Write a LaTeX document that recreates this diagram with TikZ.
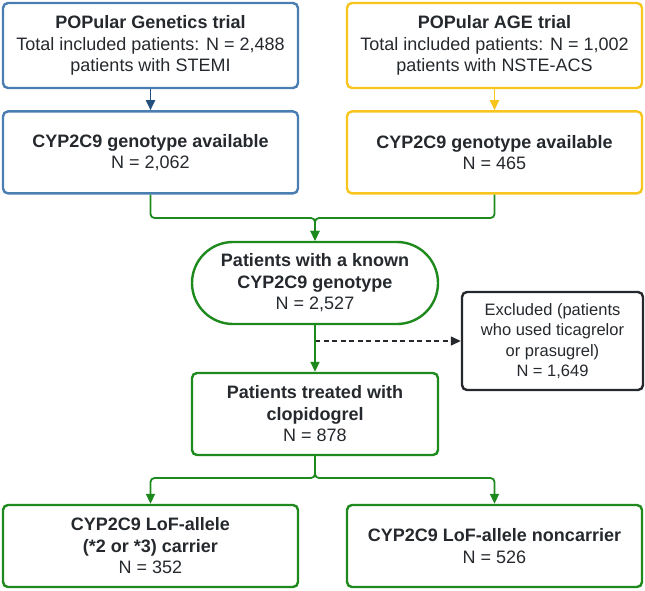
\documentclass[tikz,border=0pt]{standalone}
\usepackage{fontspec}
\setmainfont{Liberation Sans}
\usetikzlibrary{arrows.meta,positioning}
\definecolor{genblue}{HTML}{4A7EB3}
\definecolor{genarrow}{HTML}{23507E}
\definecolor{ageyellow}{HTML}{F7C51E}
\definecolor{flowgreen}{HTML}{1E8A1E}
\definecolor{inkgray}{HTML}{25292D}

\begin{document}
\begin{tikzpicture}[
		x=1pt, y=1pt,
		node distance=21pt,
		block/.style={draw, line width=2.4pt, rounded corners=5pt, minimum width=295pt, minimum height=82pt, inner sep=0pt, align=center, text=inkgray, font=\fontsize{18}{21.5}\selectfont},
		trialblock/.style={block, minimum height=85pt},
		flowblock/.style={block, draw=flowgreen, minimum width=246pt},
		stadium/.style={flowblock, rounded corners=41pt},
		sideblock/.style={block, draw=inkgray, minimum width=181pt, minimum height=98pt, font=\fontsize{16.5}{20.3}\selectfont},
		flow/.style={flowgreen, line width=1.8pt, rounded corners=4pt},
		tip/.style={-{Triangle[length=10pt,width=9pt]}},
	]
		\useasboundingbox (0,0) rectangle (645,-590);

		\node (gen trial) [trialblock, draw=genblue] at (150.5,-45.5) {\textbf{POPular Genetics trial}\\Total included patients: N = 2,488\\patients with STEMI};
		\node (age trial) [trialblock, draw=ageyellow] at (494.5,-45.5) {\textbf{POPular AGE trial}\\Total included patients: N = 1,002\\patients with NSTE-ACS};
		\node (gen geno) [block, draw=genblue, below=of gen trial] {\textbf{CYP2C9 genotype available}\\N = 2,062};
		\node (age geno) [block, draw=ageyellow, below=of age trial] {\textbf{CYP2C9 genotype available}\\N = 465};

		\node (known) [stadium] at (315,-283) {\textbf{Patients with a known}\\\textbf{CYP2C9 genotype}\\N = 2,527};
		\node (excluded) [sideblock] at (552.5,-341) {Excluded (patients\\who used ticagrelor\\or prasugrel)\\N = 1,649};
		\node (treated) [flowblock] at (315,-414) {\textbf{Patients treated with}\\\textbf{clopidogrel}\\N = 878};

		\node (carrier) [block, draw=flowgreen] at (150.5,-546) {\textbf{CYP2C9 LoF-allele}\\\textbf{(*2 or *3) carrier}\\N = 352};
		\node (noncarrier) [block, draw=flowgreen] at (494.5,-546) {\textbf{CYP2C9 LoF-allele noncarrier}\\N = 526};

		\coordinate (merge) at (315,-218);
		\coordinate (fork) at (315,-478);
		\coordinate (split) at (known.south |- excluded.west);

		\draw[genarrow, line width=1.8pt, tip] (gen trial) -- (gen geno);
		\draw[ageyellow, line width=1.8pt, tip] (age trial) -- (age geno);

		\draw[flow, tip] (gen geno) |- (merge) -- (known);
		\draw[flow, tip] (age geno) |- (merge) -- (known);

		\draw[inkgray, line width=1.4pt, dash pattern=on 5pt off 3.5pt, tip] (split) -- (excluded);
		\draw[flow, tip] (known) -- (treated);

		\draw[flow, tip] (treated) -- (fork) -| (carrier);
		\draw[flow, tip] (treated) -- (fork) -| (noncarrier);
	\end{tikzpicture}
\end{document}
